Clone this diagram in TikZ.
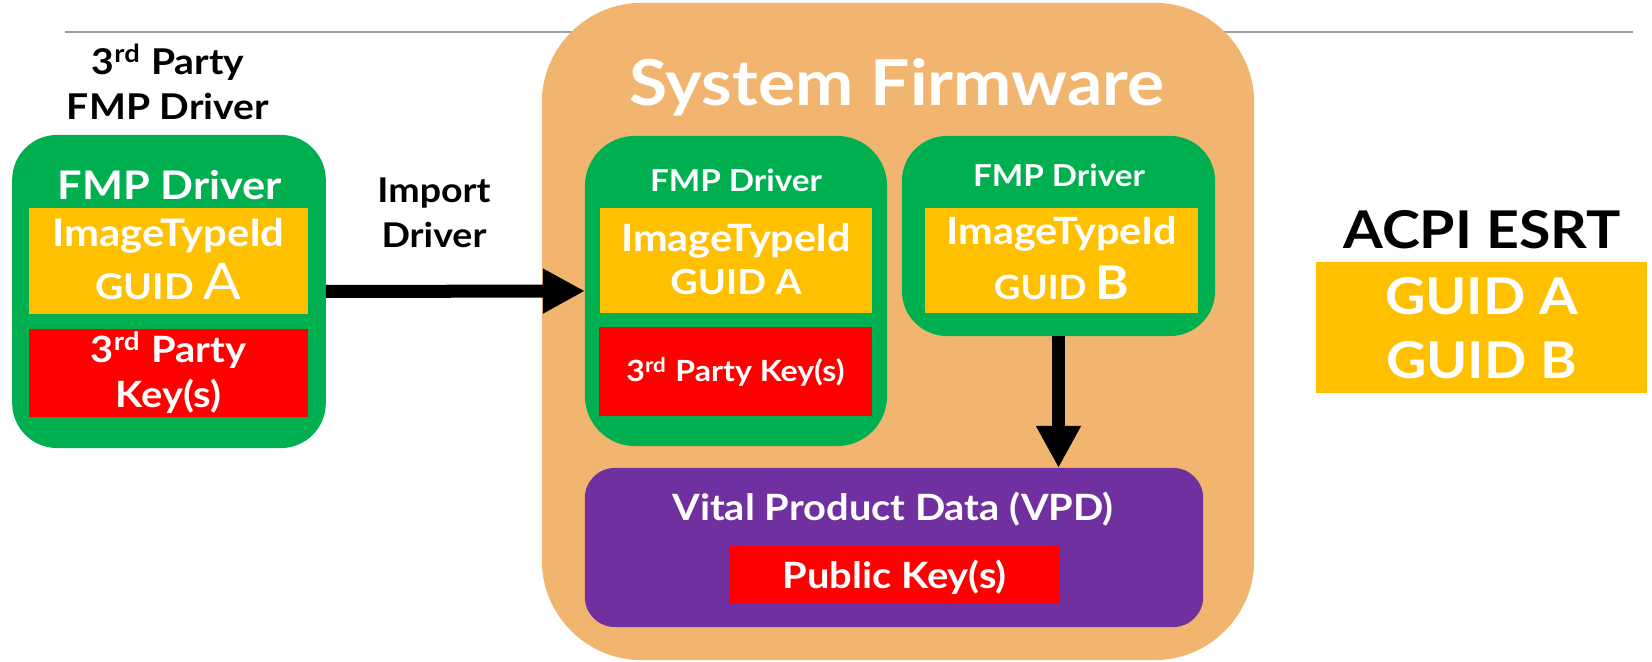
\documentclass[tikz,border=0pt]{standalone}
\usepackage{fontspec}
\setmainfont{Lato}[FakeStretch=1.1]
\usetikzlibrary{arrows.meta}
\definecolor{fmpgreen}{HTML}{00B050}
\definecolor{guidyellow}{HTML}{FFC000}
\definecolor{keyred}{HTML}{FF0000}
\definecolor{vpdpurple}{HTML}{7030A0}
\definecolor{sysorange}{HTML}{F2B56F}
\definecolor{rulegray}{HTML}{A0A0A0}
\begin{document}
\begin{tikzpicture}[x=0.01cm,y=-0.01cm,
  box/.style={inner sep=0pt, outer sep=0pt, draw=none},
  fsz/.style={font=\bfseries\fontsize{#1}{#1}\selectfont},
  txt/.style={anchor=base, inner sep=0pt, outer sep=0pt},
  wtxt/.style={txt, text=white},
  bigarrow/.style={line width=0.13cm, -{Triangle[length=0.42cm,width=0.42cm]}}
]
\useasboundingbox (0,0) rectangle (1652,662);
% rule
\coordinate (rl) at (65,32);
\coordinate (rr) at (1633,32);
\draw[rulegray, line width=0.6pt] (rl) -- (rr);

% system firmware
\node[box, fill=sysorange, rounded corners=1cm, minimum width=7.12cm, minimum height=6.57cm] (sys) at (898,331.5) {};
\node[wtxt, fsz=18] (systitle) at (897,105.5) {System Firmware};

% left 3rd party driver
\node[txt, fsz=10.1] (tp1) at (168,75) {3\textsuperscript{rd} Party};
\node[txt, fsz=10.1] (tp2) at (168,120) {FMP Driver};
\node[box, fill=fmpgreen, rounded corners=0.45cm, minimum width=3.135cm, minimum height=3.13cm] (g1) at (169,291.5) {};
\node[wtxt, fsz=11.2] (g1t) at (170,200) {FMP Driver};
\node[box, fill=guidyellow, minimum width=2.79cm, minimum height=1.06cm] (y1) at (168.5,261) {};
\node[wtxt, fsz=10.8] (y1a) at (168.5,247) {ImageTypeId};
\node[wtxt, fsz=10.1] (y1b) at (168.5,300) {GUID {\mdseries\fontsize{14.4}{14.4}\selectfont A}};
\node[box, fill=keyred, minimum width=2.79cm, minimum height=0.88cm] (r1) at (168.5,373) {};
\node[wtxt, fsz=10.3] (r1a) at (168.5,363) {3\textsuperscript{rd} Party};
\node[wtxt, fsz=10.3] (r1b) at (168.5,408) {Key(s)};

% import label
\node[txt, fsz=9.7] (imp1) at (434,203) {Import};
\node[txt, fsz=9.7] (imp2) at (434,248) {Driver};

% inner driver A
\node[box, fill=fmpgreen, rounded corners=0.5cm, minimum width=3.02cm, minimum height=3.10cm] (g2) at (736,291) {};
\node[wtxt, fsz=8.6] (g2t) at (736,192) {FMP Driver};
\node[box, fill=guidyellow, minimum width=2.72cm, minimum height=1.05cm] (y2) at (736,260.5) {};
\node[wtxt, fsz=10.7] (y2a) at (736,252) {ImageTypeId};
\node[wtxt, fsz=9.8] (y2b) at (736,295) {GUID A};
\node[box, fill=keyred, minimum width=2.73cm, minimum height=0.89cm] (r2) at (735.5,371.5) {};
\node[wtxt, fsz=8.3] (r2a) at (735.5,382) {3\textsuperscript{rd} Party Key(s)};

% inner driver B
\node[box, fill=fmpgreen, rounded corners=0.45cm, minimum width=3.13cm, minimum height=2.00cm] (g3) at (1058.5,236) {};
\node[wtxt, fsz=8.6] (g3t) at (1059,187) {FMP Driver};
\node[box, fill=guidyellow, minimum width=2.73cm, minimum height=1.05cm] (y3) at (1061.5,260.5) {};
\node[wtxt, fsz=10.7] (y3a) at (1061.5,245) {ImageTypeId};
\node[wtxt, fsz=9.5] (y3b) at (1061.5,300) {GUID {\fontsize{13.2}{13.2}\selectfont B}};

% VPD
\node[box, fill=vpdpurple, rounded corners=0.3cm, minimum width=6.18cm, minimum height=1.59cm] (vpd) at (894,547.5) {};
\node[wtxt, fsz=10.3] (vpdt) at (893,521) {Vital Product Data (VPD)};
\node[box, fill=keyred, minimum width=3.31cm, minimum height=0.57cm] (pk) at (894.5,574.5) {};
\node[wtxt, fsz=10.3] (pkt) at (894.5,589) {Public Key(s)};

% ESRT
\node[txt, fsz=14.8] (esrtt) at (1482,249) {ACPI ESRT};
\node[box, fill=guidyellow, minimum width=3.31cm, minimum height=1.31cm] (esrt) at (1481.5,327.5) {};
\node[wtxt, fsz=14.4] (esrta) at (1481.5,315) {GUID A};
\node[wtxt, fsz=14.4] (esrtb) at (1481.5,379) {GUID B};

% arrows
\draw[bigarrow] (g1.east) -- (g2.west);
\draw[bigarrow] (g3.south) -- (g3.south |- vpd.north);
\end{tikzpicture}
\end{document}
